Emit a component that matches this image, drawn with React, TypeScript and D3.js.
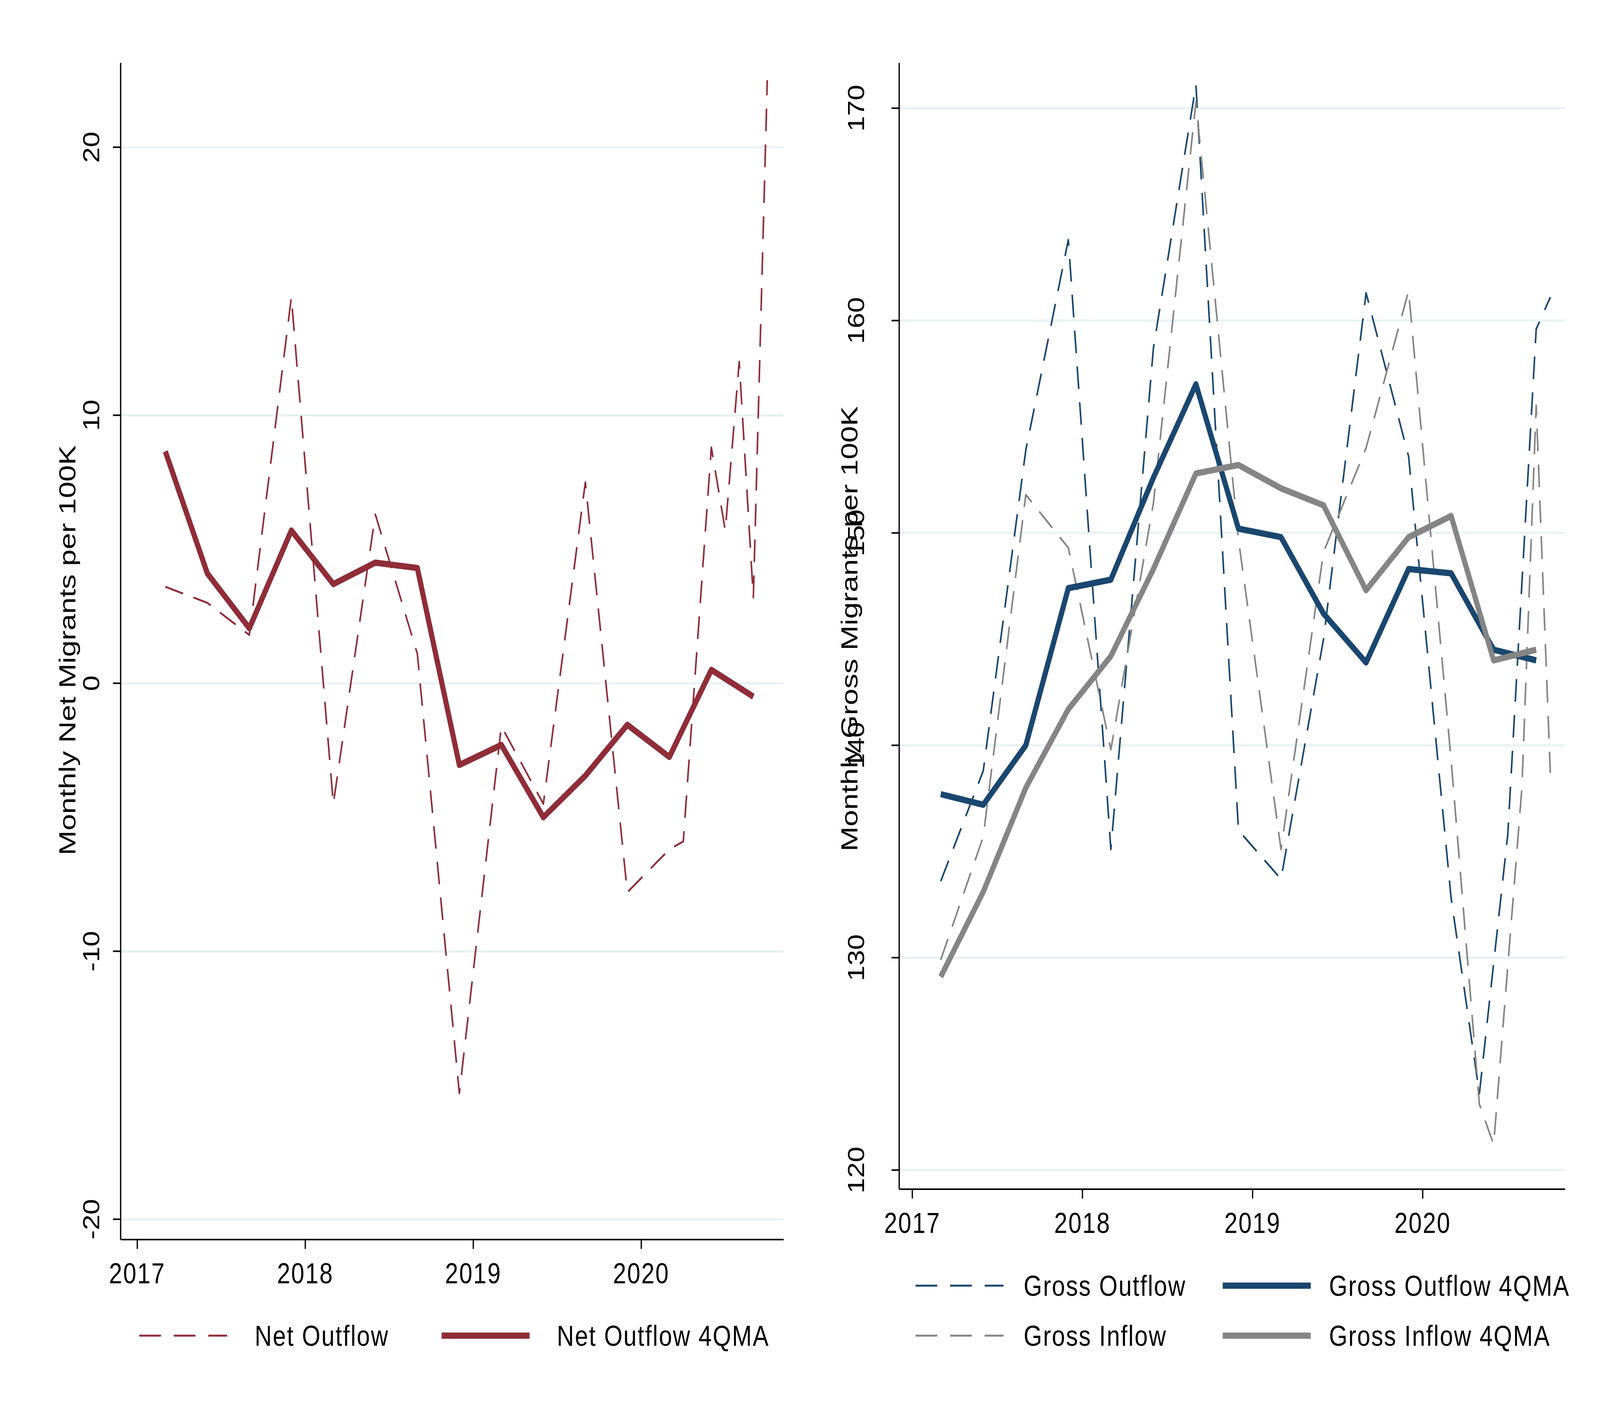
import React from 'react'
import * as d3 from 'd3'

// quarterly dates as fractional years (Mar, Jun, Sep, Dec)
const quarterDates = [2017.167, 2017.417, 2017.667, 2017.917, 2018.167, 2018.417, 2018.667, 2018.917, 2019.167, 2019.417, 2019.667, 2019.917, 2020.167]

const netOutflowDates = [...quarterDates, 2020.25, 2020.417, 2020.5, 2020.583, 2020.667, 2020.75]
const netOutflow = [3.6, 3.0, 1.8, 14.4, -4.5, 6.3, 1.1, -15.3, -1.6, -4.5, 7.5, -7.8, -6.2, -5.9, 8.8, 5.7, 12.0, 3.2, 22.5]
const net4qmaDates = [...quarterDates, 2020.417, 2020.667]
const net4qma = [8.65, 4.1, 2.05, 5.7, 3.7, 4.5, 4.3, -3.05, -2.3, -5.0, -3.45, -1.55, -2.75, 0.5, -0.5]

const grossOutflowDates = [...quarterDates, 2020.333, 2020.5, 2020.667, 2020.75]
const grossOutflow = [133.6, 138.8, 153.9, 163.8, 135.1, 158.7, 171.1, 136.0, 133.7, 145.0, 161.3, 153.6, 132.8, 123.6, 135.8, 159.6, 161.1]
const grossInflowDates = [...quarterDates, 2020.333, 2020.417, 2020.583, 2020.667, 2020.75]
const grossInflow = [129.9, 135.7, 151.8, 149.3, 139.8, 151.4, 170.3, 149.7, 135.1, 149.1, 154.0, 161.4, 139.3, 123.1, 121.2, 138.0, 156.0, 138.7]
const gross4qmaDates = [...quarterDates, 2020.417, 2020.667]
const grossOut4qma = [137.7, 137.2, 140.0, 147.4, 147.8, 152.6, 157.0, 150.2, 149.8, 146.2, 143.9, 148.3, 148.1, 144.5, 144.0]
const grossIn4qma = [129.1, 133.1, 138.0, 141.7, 144.2, 148.3, 152.8, 153.2, 152.1, 151.3, 147.3, 149.8, 150.8, 144.0, 144.5]

const yearTicks = [2017, 2018, 2019, 2020]
const netTicks = [-20, -10, 0, 10, 20]
const grossTicks = [120, 130, 140, 150, 160, 170]

const RED = '#8f2d39'
const NAVY = '#1a476f'
const GREY = '#858585'
const GRID = '#eaf2f3'
const FONT = 'Liberation Sans, Arial, sans-serif'

type Series = { dates: number[]; values: number[]; color: string; dashed: boolean; label: string }

interface PanelProps {
  left: number
  right: number
  top: number
  bottom: number
  xDomain: [number, number]
  xRange: [number, number]
  yTicks: number[]
  yTickPos: [number, number]
  title: string
  titleX: number
  titleY: number
  titleLen: number
  tickLabelX: number
  series: Series[]
}

const Panel: React.FC<PanelProps> = (p) => {
  const x = d3.scaleLinear().domain(p.xDomain).range(p.xRange)
  const y = d3
    .scaleLinear()
    .domain([p.yTicks[0], p.yTicks[p.yTicks.length - 1]])
    .range(p.yTickPos)
  const line = d3
    .line<[number, number]>()
    .x((d) => x(d[0]))
    .y((d) => y(d[1]))
  return (
    <g>
      {p.yTicks.map((t) => (
        <line key={'g' + t} x1={p.left} x2={p.right} y1={y(t)} y2={y(t)} stroke={GRID} strokeWidth={6} />
      ))}
      {p.series.map((s) => (
        <path
          key={s.label}
          d={line(s.dates.map((d, i) => [d, s.values[i]]) as [number, number][]) || ''}
          fill="none"
          stroke={s.color}
          strokeWidth={s.dashed ? 5 : 16}
          strokeDasharray={s.dashed ? '58 34' : undefined}
          strokeLinejoin="round"
        />
      ))}
      <line x1={p.left} x2={p.left} y1={p.top} y2={p.bottom} stroke="#000" strokeWidth={4} />
      <line x1={p.left} x2={p.right} y1={p.bottom} y2={p.bottom} stroke="#000" strokeWidth={4} />
      {p.yTicks.map((t) => (
        <g key={'y' + t}>
          <line x1={p.left - 24} x2={p.left} y1={y(t)} y2={y(t)} stroke="#000" strokeWidth={4} />
          <text
            transform={`translate(${p.tickLabelX},${y(t)}) rotate(-90)`}
            textAnchor="middle"
            fontSize={72}
            fontFamily={FONT}
          >
            {t}
          </text>
        </g>
      ))}
      {yearTicks.map((t) => (
        <g key={'x' + t}>
          <line x1={x(t)} x2={x(t)} y1={p.bottom} y2={p.bottom + 24} stroke="#000" strokeWidth={4} />
          <text x={x(t)} y={p.bottom + 112} textAnchor="middle" fontSize={74} fontFamily={FONT} letterSpacing={3}>
            {t}
          </text>
        </g>
      ))}
      <text
        transform={`translate(${p.titleX},${p.titleY}) rotate(-90)`}
        textAnchor="middle"
        fontSize={72}
        fontFamily={FONT}
        textLength={p.titleLen}
        lengthAdjust="spacingAndGlyphs"
      >
        {p.title}
      </text>
    </g>
  )
}

const LegendItem: React.FC<{ x: number; y: number; color: string; dashed: boolean; label: string; textX: number }> = ({
  x,
  y,
  color,
  dashed,
  label,
  textX,
}) => (
  <g>
    <line
      x1={x}
      x2={x + 275}
      y1={y}
      y2={y}
      stroke={color}
      strokeWidth={dashed ? 5 : 16}
      strokeDasharray={dashed ? '68 40' : undefined}
    />
    <text x={textX} y={y + 26} fontSize={74} fontFamily={FONT} letterSpacing={3}>
      {label}
    </text>
  </g>
)

const App: React.FC = () => {
  return (
    <svg
      viewBox="0 0 5000 3636"
      preserveAspectRatio="none"
      style={{ position: 'fixed', left: 0, top: 0, width: '100vw', height: '100vh', display: 'block', background: '#fff' }}
    >
      <rect width={5000} height={3636} fill="#fff" />
      <Panel
        left={377}
        right={2449}
        top={161}
        bottom={3174}
        xDomain={[2017, 2020]}
        xRange={[429, 2004]}
        yTicks={netTicks}
        yTickPos={[3122, 377]}
        title="Monthly Net Migrants per 100K"
        titleX={236}
        titleY={1665}
        titleLen={1050}
        tickLabelX={310}
        series={[
          { dates: netOutflowDates, values: netOutflow, color: RED, dashed: true, label: 'no' },
          { dates: net4qmaDates, values: net4qma, color: RED, dashed: false, label: 'nq' },
        ]}
      />
      <Panel
        left={2810}
        right={4891}
        top={161}
        bottom={3045}
        xDomain={[2017, 2020]}
        xRange={[2851, 4446]}
        yTicks={grossTicks}
        yTickPos={[2996, 277]}
        title="Monthly Gross Migrants per 100K"
        titleX={2680}
        titleY={1610}
        titleLen={1140}
        tickLabelX={2700}
        series={[
          { dates: grossOutflowDates, values: grossOutflow, color: NAVY, dashed: true, label: 'go' },
          { dates: grossInflowDates, values: grossInflow, color: GREY, dashed: true, label: 'gi' },
          { dates: gross4qmaDates, values: grossOut4qma, color: NAVY, dashed: false, label: 'goq' },
          { dates: gross4qmaDates, values: grossIn4qma, color: GREY, dashed: false, label: 'giq' },
        ]}
      />
      <LegendItem x={435} y={3420} color={RED} dashed label="Net Outflow" textX={796} />
      <LegendItem x={1380} y={3420} color={RED} dashed={false} label="Net Outflow 4QMA" textX={1740} />
      <LegendItem x={2861} y={3292} color={NAVY} dashed label="Gross Outflow" textX={3199} />
      <LegendItem x={3821} y={3292} color={NAVY} dashed={false} label="Gross Outflow 4QMA" textX={4153} />
      <LegendItem x={2861} y={3420} color={GREY} dashed label="Gross Inflow" textX={3199} />
      <LegendItem x={3821} y={3420} color={GREY} dashed={false} label="Gross Inflow 4QMA" textX={4153} />
    </svg>
  )
}

export default App
